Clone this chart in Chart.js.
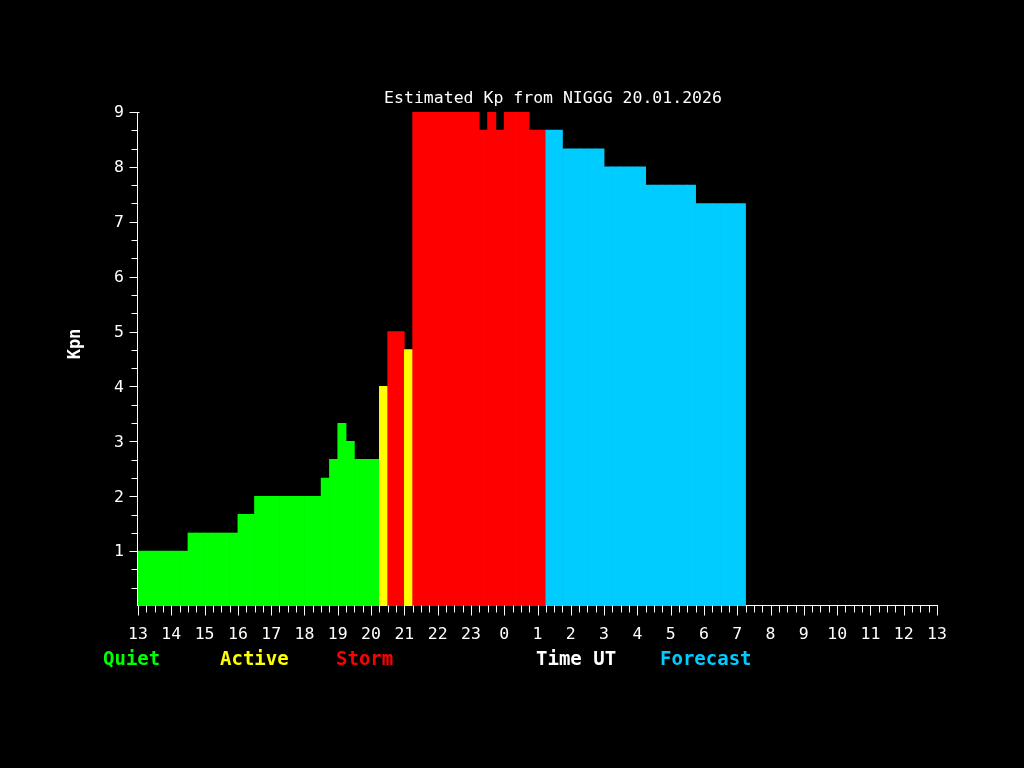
<!DOCTYPE html>
<html>
<head>
<meta charset="utf-8">
<title>Estimated Kp</title>
<script src="https://cdn.jsdelivr.net/npm/chart.js@4/dist/chart.umd.min.js"></script>
<style>
  html, body { margin: 0; background: #000; }
  canvas { display: block; }
</style>
</head>
<body>
<canvas id="kpChart" width="1024" height="768"></canvas>
<script>
// hour labels along the time axis (13 UT on the 20th to 13 UT next day)
const hourLabels = ['13', '14', '15', '16', '17', '18', '19', '20', '21', '22', '23', '0',
    '1', '2', '3', '4', '5', '6', '7', '8', '9', '10', '11', '12', '13'];
const kpTicks = [1, 2, 3, 4, 5, 6, 7, 8, 9];

// Kp per 15 minute bin, starting at 13:00 UT
const kpValues = [
    1.0, 1.0, 1.0, 1.0, 1.0, 1.0,           // 13:00 - 14:30
    1.33, 1.33, 1.33, 1.33, 1.33, 1.33,     // 14:30 - 16:00
    1.67, 1.67,                             // 16:00 - 16:30
    2.0, 2.0, 2.0, 2.0, 2.0, 2.0, 2.0, 2.0, // 16:30 - 18:30
    2.33, 2.67, 3.33, 3.0,                  // 18:30 - 19:30
    2.67, 2.67, 2.67,                       // 19:30 - 20:15
    4.0, 5.0, 5.0, 4.67,                    // 20:15 - 21:15
    9.0, 9.0, 9.0, 9.0, 9.0, 9.0, 9.0, 9.0, // 21:15 - 23:15
    8.67, 9.0, 8.67,                        // 23:15 - 0:00
    9.0, 9.0, 9.0,                          // 0:00 - 0:45
    8.67, 8.67,                             // 0:45 - 1:15
    // forecast
    8.67, 8.67,
    8.33, 8.33, 8.33, 8.33, 8.33,
    8.0, 8.0, 8.0, 8.0, 8.0,
    7.67, 7.67, 7.67, 7.67, 7.67, 7.67,
    7.33, 7.33, 7.33, 7.33, 7.33, 7.33
];
const forecastStart = 49;   // first forecast bin (1:15 UT)
const binHours = 0.25;

const legendItems = [
    { text: 'Quiet', color: '#00ff00', x: 103 },
    { text: 'Active', color: '#ffff00', x: 220 },
    { text: 'Storm', color: '#ff0000', x: 336 },
    { text: 'Time UT', color: '#ffffff', x: 536 },
    { text: 'Forecast', color: '#00ccff', x: 660 }
];

function barColor(v, i) {
    if (i >= forecastStart) return '#00ccff';
    if (v >= 5) return '#ff0000';
    if (v >= 4) return '#ffff00';
    return '#00ff00';
}

const monoFont = '"DejaVu Sans Mono", "Liberation Mono", monospace';

const axesPlugin = {
    id: 'kpAxes',
    beforeDraw(chart) {
        const ctx = chart.ctx;
        ctx.save();
        ctx.fillStyle = '#000';
        ctx.fillRect(0, 0, chart.width, chart.height);
        ctx.restore();
    },
    beforeDatasetsDraw(chart) {
        const ctx = chart.ctx;
        const xs = chart.scales.x;
        const area = chart.chartArea;
        ctx.save();
        ctx.strokeStyle = '#fff';
        ctx.lineWidth = 1;
        ctx.beginPath();
        const yLine = Math.round(area.bottom) - 0.5;
        ctx.moveTo(Math.round(xs.left), yLine);
        ctx.lineTo(Math.round(xs.right) + 1, yLine);
        ctx.stroke();
        ctx.restore();
    },
    afterDraw(chart) {
        const ctx = chart.ctx;
        const xs = chart.scales.x;
        const ys = chart.scales.y;
        const area = chart.chartArea;
        ctx.save();
        ctx.strokeStyle = '#fff';
        ctx.fillStyle = '#fff';
        ctx.lineWidth = 1;

        // y axis line and ticks (every third of a Kp unit)
        const xAxis = Math.round(area.left) - 0.5;
        ctx.beginPath();
        ctx.moveTo(xAxis, Math.round(area.top));
        ctx.lineTo(xAxis, Math.round(area.bottom));
        for (let k = 1; k <= 27; k++) {
            const y = Math.round(ys.getPixelForValue(k / 3)) + 0.5;
            const len = k % 3 === 0 ? 8 : 6;
            ctx.moveTo(xAxis - len, y);
            ctx.lineTo(xAxis + (k === 27 ? 2 : 0), y);
        }
        ctx.stroke();

        // x axis ticks every 15 minutes
        const yBase = Math.round(area.bottom) - 0.5;
        ctx.beginPath();
        for (let q = 0; q <= 96; q++) {
            const x = Math.round(xs.getPixelForValue(q * binHours)) + 0.5;
            const len = q % 4 === 0 ? 10 : 7;
            ctx.moveTo(x, yBase);
            ctx.lineTo(x, yBase + len);
        }
        ctx.stroke();

        // tick labels
        ctx.font = '16.5px ' + monoFont;
        ctx.textAlign = 'center';
        ctx.textBaseline = 'middle';
        hourLabels.forEach((lab, h) => {
            ctx.fillText(lab, xs.getPixelForValue(h), 635);
        });
        ctx.textAlign = 'right';
        kpTicks.forEach(k => {
            ctx.fillText(String(k), 124, ys.getPixelForValue(k) + 1);
        });

        // title
        ctx.textAlign = 'center';
        ctx.fillText('Estimated Kp from NIGGG 20.01.2026', 553, 99);

        // y axis title
        ctx.font = 'bold 17px ' + monoFont;
        ctx.save();
        ctx.translate(76, 344);
        ctx.rotate(-Math.PI / 2);
        ctx.fillText('Kpn', 0, 0);
        ctx.restore();

        // legend
        ctx.font = 'bold 19px ' + monoFont;
        ctx.textAlign = 'left';
        legendItems.forEach(item => {
            ctx.fillStyle = item.color;
            ctx.fillText(item.text, item.x, 660);
        });
        ctx.restore();
    }
};

const chartSettings = {
    type: 'bar',
    data: {
        datasets: [{
            data: kpValues.map((v, i) => ({ x: i * binHours + binHours / 2, y: v })),
            backgroundColor: kpValues.map(barColor),
            borderWidth: 0,
            barPercentage: 1,
            categoryPercentage: 1
        }]
    },
    options: {
        responsive: false,
        animation: false,
        layout: { padding: { left: 138, right: 87, top: 112, bottom: 162 } },
        plugins: {
            legend: { display: false },
            tooltip: { enabled: false }
        },
        scales: {
            x: { type: 'linear', min: 0, max: 24, offset: false, display: false },
            y: { min: 0, max: 9, display: false }
        }
    },
    plugins: [axesPlugin]
};

new Chart(document.getElementById('kpChart').getContext('2d'), chartSettings);
</script>
</body>
</html>
